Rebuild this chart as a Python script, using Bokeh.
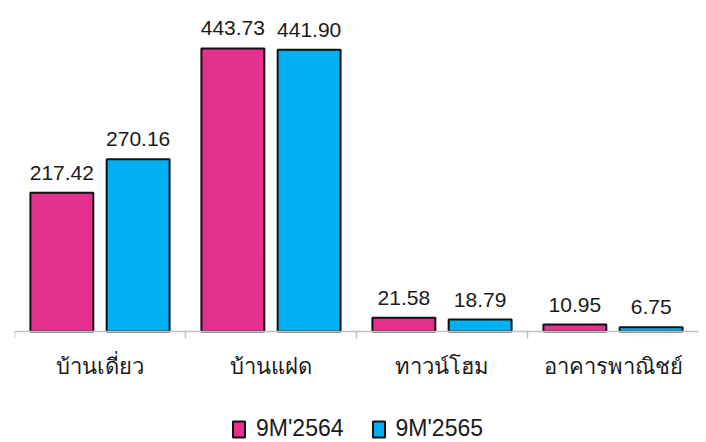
from bokeh.plotting import figure
from bokeh.models import ColumnDataSource, Range1d, FixedTicker, Legend, LegendItem, LinearAxis
from bokeh.core.properties import value
from bokeh.embed import file_html
from bokeh.resources import INLINE

categories = ["บ้านเดี่ยว", "บ้านแฝด", "ทาวน์โฮม", "อาคารพาณิชย์"]
series_names = ["9M'2564", "9M'2565"]
values_2564 = [217.42, 443.73, 21.58, 10.95]
values_2565 = [270.16, 441.90, 18.79, 6.75]

PINK = "#E4308E"
BLUE = "#00B0F0"
FONT = "Liberation Sans"

centers = [i + 0.5 for i in range(len(categories))]
x_pink = [c - 0.223 for c in centers]
x_blue = [c + 0.223 for c in centers]

src_pink = ColumnDataSource(dict(x=x_pink, top=values_2564, lab=[f"{v:.2f}" for v in values_2564]))
src_blue = ColumnDataSource(dict(x=x_blue, top=values_2565, lab=[f"{v:.2f}" for v in values_2565]))

p = figure(width=698, height=442, output_backend="svg", toolbar_location=None,
           x_range=Range1d(0, 4), y_range=Range1d(-174.0, 506.4),
           x_axis_location=None, y_axis_location=None,
           min_border_left=14, min_border_right=0, min_border_top=8, min_border_bottom=0)
p.outline_line_color = None
p.xgrid.visible = False
p.ygrid.visible = False
p.background_fill_color = "white"
p.border_fill_color = "white"

r1 = p.vbar(x="x", top="top", width=0.368, bottom=0, source=src_pink,
            fill_color=PINK, line_color="#111111", line_width=2)
r2 = p.vbar(x="x", top="top", width=0.368, bottom=0, source=src_blue,
            fill_color=BLUE, line_color="#111111", line_width=2)

for src in (src_pink, src_blue):
    p.text(x="x", y="top", text="lab", source=src, y_offset=-13,
           text_align="center", text_baseline="bottom",
           text_font=value(FONT), text_font_size="21px", text_color="#1a1a1a")

ax = LinearAxis(fixed_location=0)
ax.ticker = FixedTicker(ticks=centers, minor_ticks=[0, 1, 2, 3, 4])
ax.major_label_overrides = {c: name for c, name in zip(centers, categories)}
ax.major_tick_line_color = None
ax.minor_tick_line_color = "#bfbfbf"
ax.minor_tick_line_width = 1.5
ax.minor_tick_out = 7
ax.minor_tick_in = 0
ax.axis_line_color = "#bfbfbf"
ax.axis_line_width = 1.5
ax.major_label_standoff = 15
ax.major_label_text_font = FONT
ax.major_label_text_font_size = "22px"
ax.major_label_text_color = "#1a1a1a"
p.add_layout(ax, "below")

legend = Legend(items=[LegendItem(label=series_names[0], renderers=[r1]),
                       LegendItem(label=series_names[1], renderers=[r2])],
                location=(217, 0), orientation="horizontal",
                glyph_width=15, glyph_height=20, label_standoff=10, spacing=27,
                padding=2, margin=0, border_line_color=None, background_fill_alpha=0,
                label_text_font=FONT, label_text_font_size="23px", label_text_color="#1a1a1a")
p.add_layout(legend, "center")

open("out.html", "w").write(file_html(p, INLINE))
